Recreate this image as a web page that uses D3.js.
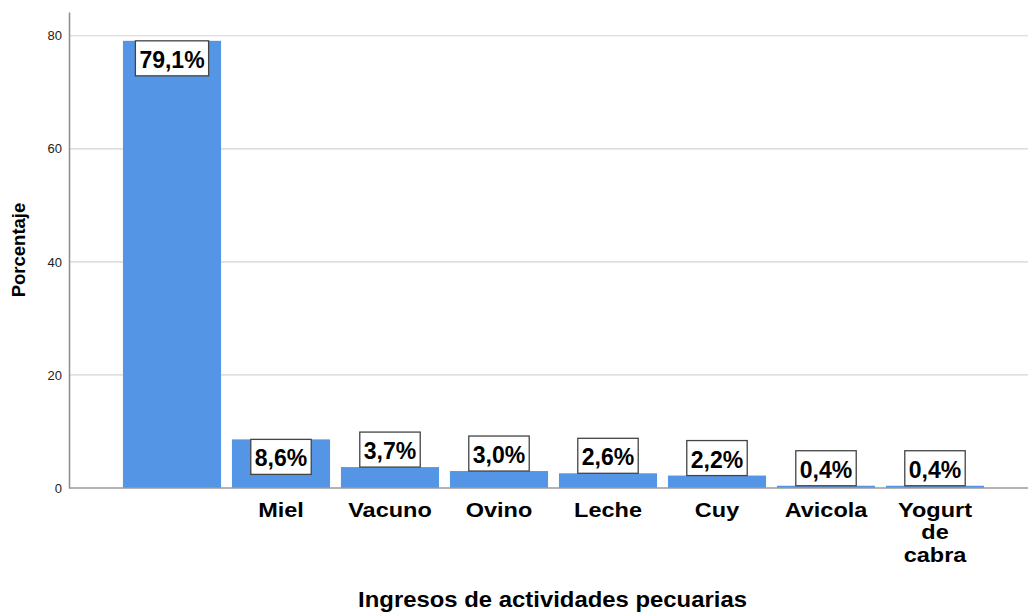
<!DOCTYPE html>
<html>
<head>
<meta charset="utf-8">
<script src="https://cdn.jsdelivr.net/npm/d3@7"></script>
<style>
  html, body { margin: 0; padding: 0; background: #fff; }
  svg { display: block; }
  text { font-family: "Liberation Sans", Arial, sans-serif; }
</style>
</head>
<body>
<svg id="chart" width="1028" height="615"></svg>
<script>
// Data
const categories = ["", "Miel", "Vacuno", "Ovino", "Leche", "Cuy", "Avicola", "Yogurt de cabra"];
const categoryLines = [[""], ["Miel"], ["Vacuno"], ["Ovino"], ["Leche"], ["Cuy"], ["Avicola"], ["Yogurt", "de", "cabra"]];
const values = [79.1, 8.6, 3.7, 3.0, 2.6, 2.2, 0.4, 0.4];
const valueLabels = ["79,1%", "8,6%", "3,7%", "3,0%", "2,6%", "2,2%", "0,4%", "0,4%"];
const yTicks = [0, 20, 40, 60, 80];
const yTitle = "Porcentaje";
const xTitle = "Ingresos de actividades pecuarias";

const svg = d3.select("#chart");
const plotLeft = 69, plotRight = 1028, plotTop = 12, plotBottom = 488;

const x = d3.scaleBand()
  .domain(categories)
  .range([117.5, 989.5])
  .paddingInner(0.1)
  .paddingOuter(0.05);

const y = d3.scaleLinear()
  .domain([0, 84.2])
  .range([plotBottom, plotTop]);

// Gridlines
svg.append("g")
  .selectAll("line")
  .data(yTicks.filter(d => d > 0))
  .join("line")
  .attr("x1", plotLeft).attr("x2", plotRight)
  .attr("y1", d => y(d)).attr("y2", d => y(d))
  .attr("stroke", "#d4d4d4").attr("stroke-width", 1.2);

// Y axis
const yAxis = d3.axisLeft(y).tickValues(yTicks).tickSize(0).tickPadding(7).tickFormat(d3.format("d"));
const gy = svg.append("g").attr("transform", `translate(${plotLeft},0)`).call(yAxis);
gy.select(".domain").attr("stroke", "#8c8c8c").attr("stroke-width", 1.5);
gy.selectAll("text").attr("font-size", 13).attr("fill", "#222")
  .style("font-family", "'Liberation Sans', Arial, sans-serif");

// Bars
svg.append("g")
  .selectAll("rect")
  .data(values)
  .join("rect")
  .attr("x", (d, i) => x(categories[i]))
  .attr("width", x.bandwidth())
  .attr("y", d => y(d))
  .attr("height", d => plotBottom - y(d))
  .attr("fill", "#5595e5");

// X axis baseline
svg.append("line")
  .attr("x1", plotLeft).attr("x2", plotRight)
  .attr("y1", plotBottom).attr("y2", plotBottom)
  .attr("stroke", "#9a9a9a").attr("stroke-width", 1.5);

// Value label boxes
const boxH = 35;
const lbl = svg.append("g").selectAll("g")
  .data(values)
  .join("g");
lbl.each(function(d, i) {
  const g = d3.select(this);
  const cx = x(categories[i]) + x.bandwidth() / 2;
  const barH = plotBottom - y(d);
  const top = barH >= boxH ? y(d) : y(d) - boxH;
  const rect = g.append("rect");
  const t = g.append("text")
    .attr("x", cx).attr("y", top + 27)
    .attr("text-anchor", "middle")
    .attr("font-size", 23).attr("font-weight", "bold").attr("fill", "#000")
    .text(valueLabels[i]);
  const w = t.node().getComputedTextLength() + 8;
  rect.attr("x", cx - w / 2).attr("y", top).attr("width", w).attr("height", boxH)
    .attr("fill", "#fff").attr("stroke", "#444").attr("stroke-width", 1.3);
});

// Category labels
const cat = svg.append("g").selectAll("text")
  .data(categoryLines)
  .join("text")
  .attr("transform", (d, i) => `translate(${x(categories[i]) + x.bandwidth() / 2},517) scale(1.12,1)`)
  .attr("text-anchor", "middle")
  .attr("font-size", 21).attr("font-weight", "bold").attr("fill", "#000");
cat.selectAll("tspan")
  .data(d => d)
  .join("tspan")
  .attr("x", 0)
  .attr("dy", (d, j) => j === 0 ? 0 : 22.5)
  .text(d => d);

// Axis titles
svg.append("text")
  .attr("transform", "translate(25,250) rotate(-90)")
  .attr("text-anchor", "middle")
  .attr("font-size", 18.5).attr("font-weight", "bold").attr("fill", "#000")
  .text(yTitle);

svg.append("text")
  .attr("transform", "translate(552.5,607) scale(1.086,1)")
  .attr("text-anchor", "middle")
  .attr("font-size", 22).attr("font-weight", "bold").attr("fill", "#000")
  .text(xTitle);
</script>
</body>
</html>
